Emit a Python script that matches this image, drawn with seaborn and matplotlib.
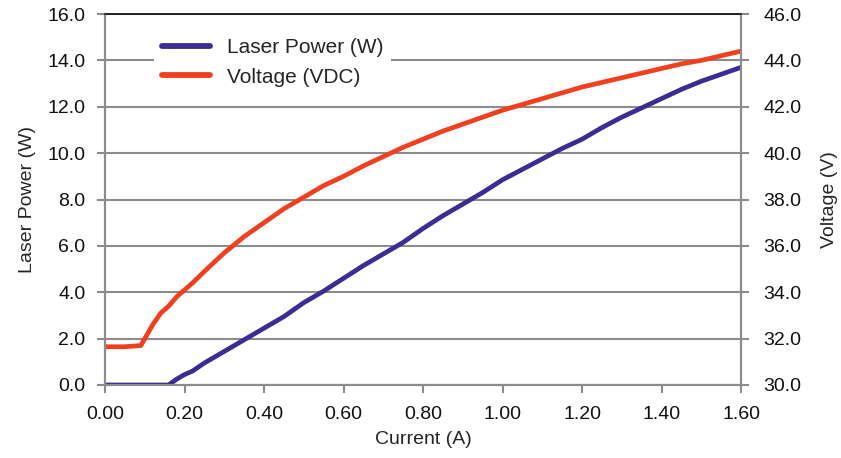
import numpy as np
import pandas as pd
import seaborn as sns
from matplotlib import pyplot as plt

# Data
current = [0.00, 0.05, 0.09, 0.10, 0.12, 0.14, 0.16, 0.18, 0.20, 0.22, 0.25, 0.30,
           0.35, 0.40, 0.45, 0.50, 0.55, 0.60, 0.65, 0.70, 0.75, 0.80, 0.85, 0.90,
           0.95, 1.00, 1.05, 1.10, 1.15, 1.20, 1.25, 1.30, 1.35, 1.40, 1.45, 1.50,
           1.55, 1.60]
laser_power = [0.00, 0.00, 0.00, 0.00, 0.00, 0.00, 0.00, 0.25, 0.45, 0.60, 0.95, 1.45,
               1.95, 2.45, 2.95, 3.55, 4.05, 4.60, 5.15, 5.65, 6.15, 6.75, 7.30, 7.80,
               8.30, 8.85, 9.30, 9.75, 10.20, 10.60, 11.10, 11.55, 11.95, 12.35, 12.75,
               13.10, 13.40, 13.70]
voltage = [31.65, 31.65, 31.70, 32.00, 32.60, 33.10, 33.40, 33.80, 34.10, 34.40, 34.90, 35.70,
           36.40, 37.00, 37.60, 38.10, 38.60, 39.00, 39.45, 39.85, 40.25, 40.60, 40.95, 41.25,
           41.55, 41.85, 42.10, 42.35, 42.60, 42.85, 43.05, 43.25, 43.45, 43.65, 43.85,
           44.00, 44.20, 44.40]

df = pd.DataFrame({"Current (A)": current, "Laser Power (W)": laser_power,
                   "Voltage (VDC)": voltage})

sns.set_style("white")
plt.rcParams['font.family'] = ['Liberation Sans', 'DejaVu Sans']

purple = "#3D2C93"
red = "#F0401F"
grid_col = "#8C8C8C"
fs = 14

fig = plt.figure(figsize=(8.41, 4.58), dpi=100)
ax = fig.add_axes([0.1249, 0.1594, 0.7562, 0.81])
ax2 = ax.twinx()

sns.lineplot(data=df, x="Current (A)", y="Laser Power (W)", ax=ax, color=purple,
             linewidth=3.4, label="Laser Power (W)", legend=False)
sns.lineplot(data=df, x="Current (A)", y="Voltage (VDC)", ax=ax2, color=red,
             linewidth=3.4, label="Voltage (VDC)", legend=False)

ax.set_xlim(0, 1.6)
ax.set_ylim(0, 16)
ax2.set_ylim(30, 46)
ax.set_xticks(np.arange(0, 1.61, 0.2))
ax.set_yticks(np.arange(0, 16.1, 2))
ax2.set_yticks(np.arange(30, 46.1, 2))
ax.set_xticklabels([f"{v:.2f}" for v in np.arange(0, 1.61, 0.2)])
ax.set_yticklabels([f"{v:.1f}" for v in np.arange(0, 16.1, 2)])
ax2.set_yticklabels([f"{v:.1f}" for v in np.arange(30, 46.1, 2)])

ax.yaxis.grid(True, color=grid_col, linewidth=1.5)
ax.set_axisbelow(True)
ax2.grid(False)

for a in (ax, ax2):
    for side in ("left", "right", "bottom"):
        a.spines[side].set_color(grid_col)
        a.spines[side].set_linewidth(1.5)
    a.spines["top"].set_color("#222222")
    a.spines["top"].set_linewidth(1.2)
    a.tick_params(axis="both", direction="out", length=6, width=1.5, color=grid_col,
                  labelsize=fs, labelcolor="#111111")

ax.tick_params(axis="y", left=True, pad=8)
ax.tick_params(axis="x", bottom=True, pad=9)
ax2.tick_params(axis="y", right=True, pad=10)

ax.set_xlabel("Current (A)", fontsize=fs, labelpad=6)
ax.set_ylabel("Laser Power (W)", fontsize=fs, labelpad=8)
ax2.set_ylabel("Voltage (V)", fontsize=fs, labelpad=14)

h1, l1 = ax.get_legend_handles_labels()
h2, l2 = ax2.get_legend_handles_labels()
leg = ax2.legend(h1 + h2, l1 + l2, loc="upper left", bbox_to_anchor=(0.06, 0.985),
                 frameon=True, facecolor="white", edgecolor="white", framealpha=1,
                 fontsize=15, handlelength=2.3, handletextpad=0.8,
                 labelspacing=0.5, borderpad=0.4)
leg.get_frame().set_linewidth(0)
for line in leg.get_lines():
    line.set_linewidth(4.2)

fig.savefig("out.png", dpi=100)
